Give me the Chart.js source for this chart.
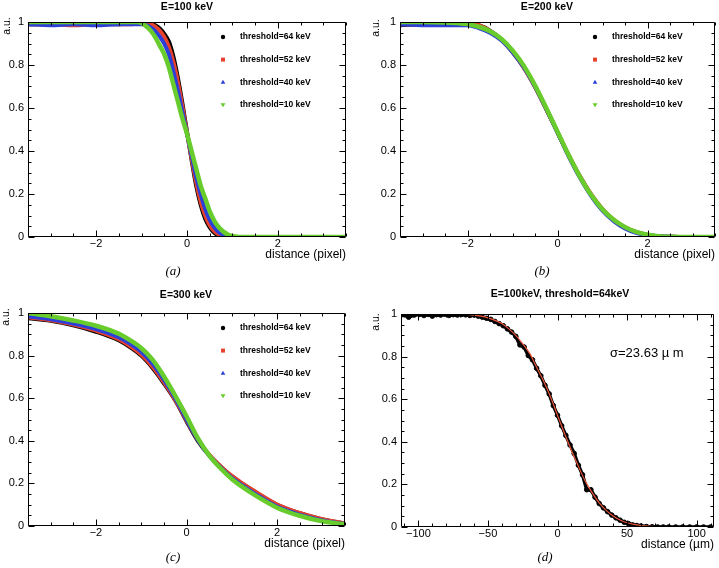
<!DOCTYPE html>
<html>
<head>
<meta charset="utf-8">
<title>Edge response</title>
<script src="https://cdn.jsdelivr.net/npm/chart.js@4.4.1/dist/chart.umd.min.js"></script>
<style>
  html, body { margin: 0; padding: 0; background: #fff; }
  #page { position: relative; width: 719px; height: 568px; overflow: hidden; }
  .panel { position: absolute; }
  .panel canvas { display: block; }
</style>
</head>
<body>
<div id="page">
  <div class="panel" style="left:0;top:0"><canvas id="chartA" width="360" height="284"></canvas></div>
  <div class="panel" style="left:360px;top:0"><canvas id="chartB" width="359" height="284"></canvas></div>
  <div class="panel" style="left:0;top:284px"><canvas id="chartC" width="360" height="284"></canvas></div>
  <div class="panel" style="left:360px;top:284px"><canvas id="chartD" width="359" height="284"></canvas></div>
</div>
<script>
// ---- data ----
const thresholdLabels = ['threshold=64 keV', 'threshold=52 keV', 'threshold=40 keV', 'threshold=10 keV'];
const pixelTicks = [-2, 0, 2];
const micronTicks = [-100, -50, 0, 50, 100];
const auTicks = [0, 0.2, 0.4, 0.6, 0.8, 1];

// (a) E=100 keV
const distPixelA = [-3.5, -3, -2.5, -2, -1.5, -1.2, -1.1, -1.0, -0.9, -0.8, -0.7, -0.6, -0.5, -0.4, -0.3, -0.2, -0.1, 0,
  0.1, 0.2, 0.3, 0.4, 0.5, 0.6, 0.7, 0.8, 0.9, 1.0, 1.1, 1.2, 1.5, 2, 2.5, 3, 3.5];
const thr64A = [0.99, 0.99, 0.99, 0.995, 0.99, 0.995, 1.0, 1.0, 1.0, 0.995, 0.985, 0.97, 0.945, 0.91, 0.84, 0.74, 0.62, 0.49,
  0.36, 0.24, 0.15, 0.085, 0.045, 0.02, 0.007, 0.001, 0, 0, 0, 0, 0, 0, 0, 0, 0];
const thr52A = [0.99, 0.99, 0.985, 0.99, 0.99, 0.99, 0.995, 0.995, 0.993, 0.99, 0.978, 0.96, 0.93, 0.885, 0.815, 0.72, 0.605, 0.485,
  0.365, 0.255, 0.165, 0.1, 0.055, 0.027, 0.011, 0.003, 0.001, 0, 0, 0, 0, 0, 0, 0, 0];
const thr40A = [0.99, 0.985, 0.99, 0.985, 0.99, 0.99, 0.99, 0.99, 0.985, 0.975, 0.958, 0.932, 0.898, 0.85, 0.77, 0.68, 0.58, 0.48,
  0.38, 0.28, 0.2, 0.13, 0.08, 0.045, 0.022, 0.01, 0.004, 0.001, 0, 0, 0, 0, 0, 0, 0];
const thr10A = [1, 1, 1, 1, 1, 1, 1, 0.995, 0.98, 0.96, 0.93, 0.89, 0.85, 0.79, 0.71, 0.63, 0.55, 0.48,
  0.40, 0.32, 0.24, 0.18, 0.12, 0.075, 0.045, 0.025, 0.012, 0.005, 0.001, 0, 0, 0, 0, 0, 0];

// (b) E=200 keV
const distPixelB = [-3.5, -3, -2.5, -2.25, -2, -1.75, -1.5, -1.25, -1, -0.75, -0.5, -0.25, 0,
  0.25, 0.5, 0.75, 1, 1.25, 1.5, 1.75, 2, 2.25, 2.5, 3, 3.5];
const thr64B = [0.985, 0.99, 0.99, 0.99, 0.993, 0.985, 0.96, 0.92, 0.862, 0.79, 0.70, 0.595, 0.487,
  0.378, 0.28, 0.195, 0.127, 0.078, 0.044, 0.022, 0.01, 0.004, 0.001, 0, 0];
const thr52B = [0.99, 0.99, 0.995, 0.995, 0.997, 0.985, 0.958, 0.918, 0.86, 0.788, 0.698, 0.595, 0.488,
  0.38, 0.282, 0.198, 0.13, 0.08, 0.045, 0.022, 0.01, 0.004, 0.001, 0, 0];
const thr40B = [0.99, 0.985, 0.985, 0.985, 0.985, 0.972, 0.95, 0.915, 0.86, 0.79, 0.70, 0.596, 0.487,
  0.375, 0.275, 0.19, 0.122, 0.074, 0.04, 0.019, 0.008, 0.003, 0.001, 0, 0];
const thr10B = [1, 1, 0.998, 0.995, 0.99, 0.978, 0.957, 0.922, 0.868, 0.797, 0.705, 0.60, 0.49,
  0.38, 0.28, 0.195, 0.128, 0.08, 0.046, 0.024, 0.011, 0.004, 0.001, 0, 0];

// (c) E=300 keV
const distPixelC = [-3.5, -3, -2.5, -2, -1.5, -1.25, -1, -0.75, -0.5, -0.25, 0, 0.25, 0.5, 0.75, 1, 1.25, 1.5, 2, 2.5, 3, 3.5];
const thr64C = [0.975, 0.963, 0.942, 0.912, 0.872, 0.84, 0.80, 0.742, 0.67, 0.59, 0.492, 0.4, 0.332, 0.28, 0.233, 0.196, 0.162, 0.1, 0.06, 0.031, 0.011];
const thr52C = [0.98, 0.966, 0.946, 0.917, 0.877, 0.845, 0.805, 0.748, 0.675, 0.592, 0.495, 0.405, 0.335, 0.281, 0.235, 0.198, 0.164, 0.101, 0.061, 0.032, 0.012];
const thr40C = [0.985, 0.971, 0.951, 0.925, 0.887, 0.857, 0.818, 0.762, 0.687, 0.6, 0.5, 0.405, 0.331, 0.275, 0.226, 0.188, 0.153, 0.091, 0.053, 0.026, 0.009];
const thr10C = [1.0, 0.985, 0.965, 0.94, 0.903, 0.873, 0.836, 0.781, 0.703, 0.612, 0.515, 0.412, 0.332, 0.271, 0.221, 0.181, 0.146, 0.086, 0.048, 0.022, 0.008];

// (d) E=100keV, threshold=64keV, distance in um
const distMicronD = [-111, -107, -103, -99, -96, -93, -90, -87, -84, -81, -78, -75, -72, -69, -66, -63, -60, -57, -54, -51,
  -48, -45, -42, -39, -36, -33, -30, -27, -24, -21, -18, -15, -12, -9, -6, -3, 0, 3, 6, 9, 12, 15, 18, 21, 24, 27,
  30, 33, 36, 39, 42, 45, 48, 51, 54, 57, 60, 64, 68, 72, 76, 80, 85, 90, 95, 100, 105, 110];
const edgeD = [0.997, 0.985, 0.995, 0.998, 0.993, 0.998, 0.99, 0.997, 0.995, 0.999, 0.993, 0.997, 0.995, 0.998, 0.996, 0.993, 0.995, 0.99, 0.985, 0.98,
  0.975, 0.965, 0.955, 0.945, 0.93, 0.915, 0.895, 0.855, 0.845, 0.805, 0.785, 0.745, 0.71, 0.665, 0.625, 0.57, 0.525, 0.475, 0.43, 0.385, 0.345, 0.29, 0.245, 0.175, 0.175, 0.14,
  0.11, 0.09, 0.072, 0.056, 0.043, 0.032, 0.022, 0.016, 0.01, 0.007, 0.005, 0.002, 0.001, 0, 0, 0, 0, 0, 0, 0, 0, 0];
const fitMicronD = [-112.5, -90, -70, -60, -55, -50, -45, -40, -35, -30, -25, -20, -15, -10, -5, 0, 5, 10, 15, 20, 25, 30, 35, 40, 45, 50, 55, 60, 70, 80, 112.5];
const fitD = [1.0, 1.0, 0.999, 0.995, 0.99, 0.982, 0.97, 0.955, 0.93, 0.9, 0.86, 0.815, 0.75, 0.685, 0.61, 0.525, 0.44, 0.36, 0.285, 0.215, 0.16, 0.113, 0.078, 0.052, 0.033, 0.02, 0.012, 0.007, 0.002, 0, 0];

// ---- styling ----
const seriesColors = ['#000000', '#e8412c', '#2c3fd9', '#68cc2c'];
const markerStyles = ['circle', 'rect', 'triangle', 'triangle'];
const FONT = '"Liberation Sans", Arial, Helvetica, sans-serif';

function thresholdSets(xs, ys) {
  return ys.map((vals, i) => ({
    label: thresholdLabels[i],
    data: xs.map((x, j) => ({ x, y: vals[j] })),
    showLine: true,
    borderColor: seriesColors[i],
    backgroundColor: seriesColors[i],
    borderWidth: i === 3 ? 4.5 : 4,
    pointRadius: 1.3,
    pointBorderWidth: 0,
    pointStyle: markerStyles[i],
    pointRotation: i === 3 ? 180 : 0,
    cubicInterpolationMode: 'monotone',
    order: 3 - i,
    clip: 0
  }));
}

function drawMarker(ctx, i, cx, cy) {
  ctx.fillStyle = seriesColors[i];
  ctx.beginPath();
  if (i === 0) ctx.arc(cx, cy, 2.2, 0, 2 * Math.PI);
  else if (i === 1) ctx.rect(cx - 2, cy - 2, 4, 4);
  else if (i === 2) { ctx.moveTo(cx, cy - 2.4); ctx.lineTo(cx + 2.3, cy + 1.6); ctx.lineTo(cx - 2.3, cy + 1.6); }
  else { ctx.moveTo(cx, cy + 2.4); ctx.lineTo(cx + 2.5, cy - 1.6); ctx.lineTo(cx - 2.5, cy - 1.6); }
  ctx.closePath();
  ctx.fill();
}

const fmt = v => String(v).replace('-', '\u2212');

// per-canvas frame settings (ROOT-like box, inward ticks, labels)
const frames = {};

const rootFrame = {
  id: 'rootFrame',
  afterDraw(chart) {
    const f = frames[chart.canvas.id];
    const { ctx, chartArea: a, scales: { x, y } } = chart;
    const L = Math.round(a.left) + 0.5, R = Math.round(a.right) - 0.5;
    const T = Math.round(a.top) + 0.5, B = Math.round(a.bottom) - 0.5;
    ctx.save();
    ctx.strokeStyle = '#000';
    ctx.lineWidth = 1;
    ctx.beginPath();
    ctx.rect(L, T, R - L, B - T);
    // x ticks, bottom and top
    for (let i = Math.ceil(x.min / f.xMinor); i * f.xMinor <= x.max + 1e-9; i++) {
      const v = i * f.xMinor;
      const px = Math.round(x.getPixelForValue(v)) + 0.5;
      const len = f.xTicks.some(t => Math.abs(t - v) < 1e-6) ? 6 : 3;
      ctx.moveTo(px, B); ctx.lineTo(px, B - len);
      ctx.moveTo(px, T); ctx.lineTo(px, T + len);
    }
    // y ticks, left and right
    for (let i = 0; i <= 20; i++) {
      const v = i * 0.05;
      const py = Math.round(y.getPixelForValue(v)) + 0.5;
      const len = i % 4 === 0 ? 6 : 3;
      ctx.moveTo(L, py); ctx.lineTo(L + len, py);
      ctx.moveTo(R, py); ctx.lineTo(R - len, py);
    }
    ctx.stroke();

    ctx.fillStyle = '#000';
    ctx.textBaseline = 'middle';
    ctx.font = '11px ' + FONT;
    ctx.textAlign = 'center';
    f.xTicks.forEach(v => ctx.fillText(fmt(v), x.getPixelForValue(v), a.bottom + 6.5));
    ctx.textAlign = 'right';
    auTicks.forEach(v => ctx.fillText(fmt(v), a.left - 4, y.getPixelForValue(v)));

    // axis titles
    ctx.font = '12px ' + FONT;
    ctx.fillText(f.xTitle, a.right, a.bottom + 18);
    ctx.save();
    ctx.translate(f.yTitleX, f.yTitleY);
    ctx.rotate(-Math.PI / 2);
    ctx.textAlign = 'center';
    ctx.font = '10.5px ' + FONT;
    ctx.fillText('a.u.', 0, 0);
    ctx.restore();

    // title and caption
    ctx.textAlign = 'center';
    ctx.font = 'bold 10.5px ' + FONT;
    ctx.fillText(f.title, f.titleX, f.titleY);
    ctx.font = 'italic 13px "Liberation Serif", "Times New Roman", serif';
    ctx.fillText(f.caption, f.capX, f.capY);

    if (f.legend) {
      ctx.font = 'bold 8.5px ' + FONT;
      ctx.textAlign = 'left';
      chart.data.datasets.forEach((ds, i) => {
        const ly = a.top + 15 + i * 22.6;
        drawMarker(ctx, i, a.left + 195, ly);
        ctx.fillStyle = '#000';
        ctx.fillText(ds.label, a.left + 212, ly);
      });
    }
    if (f.note) {
      ctx.font = '13px ' + FONT;
      ctx.textAlign = 'left';
      ctx.fillText(f.note.text, f.note.x, f.note.y);
    }
    ctx.restore();
  }
};

function makeChart(id, datasets, xMin, xMax, pad) {
  return new Chart(document.getElementById(id), {
    type: 'scatter',
    data: { datasets },
    options: {
      responsive: false,
      animation: false,
      devicePixelRatio: 1,
      layout: { padding: pad },
      plugins: { legend: { display: false }, tooltip: { enabled: false } },
      scales: {
        x: { type: 'linear', min: xMin, max: xMax, display: false },
        y: { type: 'linear', min: 0, max: 1, display: false }
      }
    },
    plugins: [rootFrame]
  });
}

frames.chartA = { title: 'E=100 keV', titleX: 187, titleY: 7, xTicks: pixelTicks, xMinor: 0.5, xTitle: 'distance (pixel)',
  yTitleX: 7, yTitleY: 26, caption: '(a)', capX: 173, capY: 272, legend: true };
frames.chartB = { title: 'E=200 keV', titleX: 187, titleY: 7, xTicks: pixelTicks, xMinor: 0.5, xTitle: 'distance (pixel)',
  yTitleX: 16, yTitleY: 28, caption: '(b)', capX: 182, capY: 272, legend: true };
frames.chartC = { title: 'E=300 keV', titleX: 186, titleY: 11, xTicks: pixelTicks, xMinor: 0.5, xTitle: 'distance (pixel)',
  yTitleX: 6, yTitleY: 33, caption: '(c)', capX: 173, capY: 274, legend: true };
frames.chartD = { title: 'E=100keV, threshold=64keV', titleX: 200, titleY: 10, xTicks: micronTicks, xMinor: 10, xTitle: 'distance (\u00b5m)',
  yTitleX: 16, yTitleY: 38, caption: '(d)', capX: 185, capY: 274, legend: false,
  note: { text: '\u03c3=23.63 \u00b5 m', x: 250, y: 69 } };

makeChart('chartA', thresholdSets(distPixelA, [thr64A, thr52A, thr40A, thr10A]), -3.5, 3.5,
  { left: 28, top: 22, right: 14, bottom: 47 });
makeChart('chartB', thresholdSets(distPixelB, [thr64B, thr52B, thr40B, thr10B]), -3.5, 3.5,
  { left: 40, top: 22, right: 1, bottom: 47 });
makeChart('chartC', thresholdSets(distPixelC, [thr64C, thr52C, thr40C, thr10C]), -3.5, 3.5,
  { left: 28, top: 29, right: 15, bottom: 42 });
makeChart('chartD', [
  {
    label: 'fit',
    data: fitMicronD.map((x, i) => ({ x, y: fitD[i] })),
    showLine: true,
    borderColor: '#e8553c',
    borderWidth: 1.2,
    pointRadius: 0,
    cubicInterpolationMode: 'monotone',
    order: 0,
    clip: 0
  },
  {
    label: 'data',
    data: distMicronD.map((x, i) => ({ x, y: edgeD[i] })),
    showLine: true,
    backgroundColor: '#000',
    borderColor: '#000',
    borderWidth: 3.5,
    pointRadius: 2.3,
    pointBorderWidth: 1,
    order: 1,
    clip: 0
  }
], -112.5, 112.5, { left: 41, top: 30, right: 2, bottom: 41 });
</script>
</body>
</html>
